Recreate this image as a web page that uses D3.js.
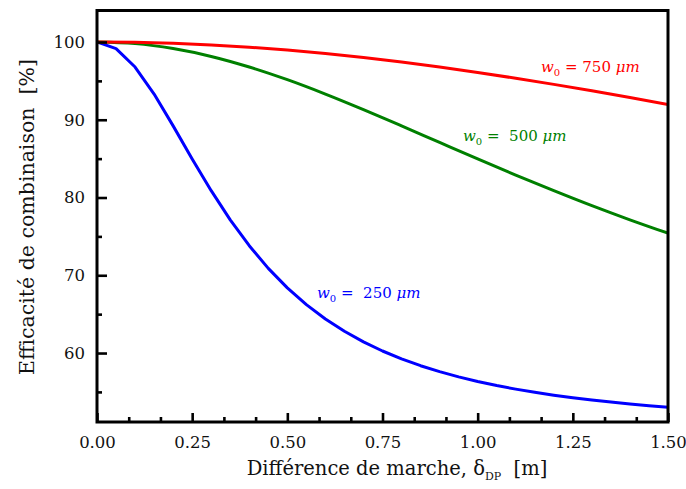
<!DOCTYPE html>
<html>
<head>
<meta charset="utf-8">
<script src="https://cdn.jsdelivr.net/npm/d3@7"></script>
<style>
  html, body { margin: 0; padding: 0; background: #fff; }
  svg { display: block; }
</style>
</head>
<body>
<svg id="chart" width="686" height="489"></svg>
<script>
// ---- data ----
const deltaBlue = [0,0.05,0.10,0.15,0.20,0.25,0.30,0.35,0.40,0.45,0.50,0.55,0.60,0.65,0.70,0.75,0.80,0.85,0.90,0.95,1.00,1.05,1.10,1.15,1.20,1.25,1.30,1.35,1.40,1.45,1.50];
const eff250 = [100,99.15,96.78,93.30,89.21,84.96,80.88,77.13,73.80,70.89,68.38,66.22,64.38,62.80,61.44,60.26,59.25,58.37,57.61,56.93,56.34,55.82,55.36,54.95,54.58,54.25,53.96,53.69,53.45,53.23,53.03];
const deltaOther = [0,0.1,0.2,0.3,0.4,0.5,0.6,0.7,0.8,0.9,1.0,1.1,1.2,1.3,1.4,1.5];
const eff500 = [100,99.79,99.15,98.14,96.78,95.15,93.30,91.30,89.21,87.08,84.96,82.89,80.88,78.95,77.13,75.41];
const eff750 = [100,99.96,99.83,99.62,99.33,98.96,98.52,98.00,97.42,96.78,96.08,95.34,94.55,93.72,92.86,91.97];
const xTicks = [0,0.25,0.5,0.75,1.0,1.25,1.5];
const xMinorTicks = [1/12,2/12,4/12,5/12,7/12,8/12,10/12,11/12,13/12,14/12,16/12,17/12];
const yTicks = [60,70,80,90,100];
const yMinorTicks = [55,65,75,85,95];
const seriesNames = ["250", "500", "750"];
const seriesColors = ["#0000ff", "#008000", "#ff0000"];

// ---- layout ----
const svg = d3.select("#chart");
const L = 97, R = 668, T = 10.5, B = 422;
const x = d3.scaleLinear().domain([0, 1.5]).range([L, R]);
const y = d3.scaleLinear().domain([51.13, 104.05]).range([B, T]);

svg.append("defs").append("clipPath").attr("id", "clip")
  .append("rect").attr("x", L).attr("y", T).attr("width", R - L).attr("height", B - T);

const series = [
  {xs: deltaBlue, ys: eff250, color: seriesColors[0]},
  {xs: deltaOther, ys: eff500, color: seriesColors[1]},
  {xs: deltaOther, ys: eff750, color: seriesColors[2]}
];

const line = d3.line().x(d => x(d[0])).y(d => y(d[1]));
const gLines = svg.append("g").attr("clip-path", "url(#clip)");
series.forEach((s, i) => {
  const pts = s.xs.map((v, j) => [v, s.ys[j]]);
  gLines.append("path")
    .attr("d", i === 0 ? line.curve(d3.curveLinear)(pts) : line.curve(d3.curveMonotoneX)(pts))
    .attr("fill", "none")
    .attr("stroke", s.color)
    .attr("stroke-width", 3)
    .attr("stroke-linejoin", "round");
});

// axes with inward ticks
const font = "'DejaVu Serif', serif";
const xAxis = d3.axisBottom(x).tickValues(xTicks).tickSize(-9).tickPadding(14)
  .tickFormat(d3.format(".2f"));
const gx = svg.append("g").attr("transform", `translate(0,${B})`).call(xAxis);
const xMinor = d3.axisBottom(x).tickValues(xMinorTicks).tickSize(-5).tickFormat("");
const gxm = svg.append("g").attr("transform", `translate(0,${B})`).call(xMinor);

const yAxis = d3.axisLeft(y).tickValues(yTicks).tickSize(-10).tickPadding(12);
const gy = svg.append("g").attr("transform", `translate(${L},0)`).call(yAxis);
const yMinor = d3.axisLeft(y).tickValues(yMinorTicks).tickSize(-5).tickFormat("");
const gym = svg.append("g").attr("transform", `translate(${L},0)`).call(yMinor);

[gx, gxm, gy, gym].forEach(g => {
  g.select(".domain").remove();
  g.selectAll(".tick line").attr("stroke", "#000").attr("stroke-width", 2.6);
  g.selectAll(".tick text").attr("fill", "#111").style("font-family", font).style("font-size", "16.5px");
});
gx.selectAll(".tick text").attr("dy", "0.71em");

// frame
svg.append("rect").attr("x", L).attr("y", T).attr("width", R - L).attr("height", B - T)
  .attr("fill", "none").attr("stroke", "#000").attr("stroke-width", 3);

// axis titles
const xt = svg.append("text").attr("x", 397).attr("y", 475).attr("text-anchor", "middle")
  .style("font-family", font).style("font-size", "19.5px").attr("fill", "#111");
xt.append("tspan").text("Différence de marche, δ");
xt.append("tspan").attr("dy", 5).style("font-size", "11px").text("DP");
xt.append("tspan").attr("dy", -5).text("\u00a0 [m]");

svg.append("text").attr("transform", "translate(34,217) rotate(-90)").attr("text-anchor", "middle")
  .style("font-family", font).style("font-size", "20.5px").attr("fill", "#111")
  .text("Efficacité de combinaison \u00a0[%]");

// series labels
const mathFont = "'DejaVu Serif', serif";
function label(xp, yp, num, color) {
  const t = svg.append("text").attr("x", xp).attr("y", yp)
    .style("font-family", mathFont).style("font-size", "15px").attr("fill", color);
  t.append("tspan").style("font-style", "italic").text("w");
  t.append("tspan").attr("dy", 4).style("font-size", "10px").text("0");
  t.append("tspan").attr("dy", -4).text(" = " + num + " ");
  t.append("tspan").style("font-style", "italic").text("μm");
}
label(541, 71.5, seriesNames[2], seriesColors[2]);
label(463, 141, "\u00a0" + seriesNames[1], seriesColors[1]);
label(317, 298, "\u00a0" + seriesNames[0], seriesColors[0]);
</script>
</body>
</html>
